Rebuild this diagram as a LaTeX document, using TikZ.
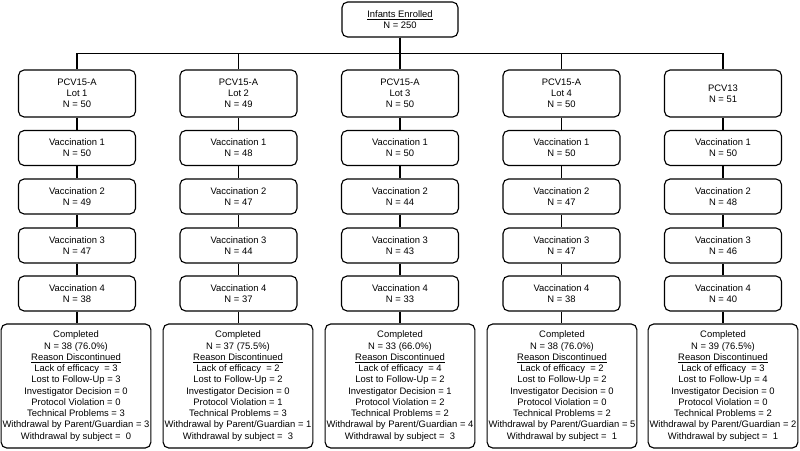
\documentclass[tikz,border=0pt]{standalone}
\usepackage{fontspec}
\setmainfont{Liberation Sans}
\usetikzlibrary{positioning}

\newcommand{\reasontext}[9]{Completed\\N = #1 (#2)\\\underline{Reason Discontinued}\\
  Lack of efficacy~ = #3\\Lost to Follow-Up = #4\\Investigator Decision = #5\\
  Protocol Violation = #6\\Technical Problems = #7\\
  Withdrawal by Parent/Guardian = #8\\Withdrawal by subject = ~#9}

\tikzset{
  box/.style={draw,rounded corners=4pt,align=center,inner sep=1pt,
    font=\fontsize{6.7}{8}\selectfont},
  armbox/.style={box,minimum width=2.925cm,minimum height=1.175cm},
  vacbox/.style={box,minimum width=2.925cm,minimum height=0.875cm},
  donebox/.style={box,minimum width=3.725cm,minimum height=3.1cm},
}

\begin{document}
\begin{tikzpicture}[x=0.025cm,y=-0.025cm,line width=0.8pt]
  \useasboundingbox (0,0) rectangle (800,451);

  \node[box,minimum width=2.9cm,minimum height=0.875cm] (enrol) at (400,19.5)
    {\underline{Infants Enrolled}\\N = 250};

  % one column per arm
  \foreach \i/\x/\arm/\n in {1/77/PCV15-A\\Lot 1/50,2/238.5/PCV15-A\\Lot 2/49,
      3/400/PCV15-A\\Lot 3/50,4/561.5/PCV15-A\\Lot 4/50,5/723/PCV13/51}{
    \node[armbox] (lot\i) at (\x,93.5) {\arm\\N = \n};
    \draw (enrol.south) -- ++(0,16) -| (lot\i.north);
  }

  \foreach \i/\x/\va/\vb/\vc/\vd in {1/77/50/49/47/38,2/238.5/48/47/44/37,
      3/400/50/44/43/33,4/561.5/50/47/47/38,5/723/50/48/46/40}{
    \foreach \k/\y/\v in {1/148/\va,2/196.5/\vb,3/245.5/\vc,4/293.5/\vd}{
      \node[vacbox] (v\i-\k) at (\x,\y) {Vaccination \k\\N = \v};
    }
    \draw (lot\i.south) -- (v\i-1.north);
    \draw (v\i-1.south) -- (v\i-2.north);
    \draw (v\i-2.south) -- (v\i-3.north);
    \draw (v\i-3.south) -- (v\i-4.north);
  }

  \node[donebox] (done1) at (76,386) {\reasontext{38}{76.0\%}{3}{3}{0}{0}{3}{3}{0}};
  \node[donebox] (done2) at (238,386) {\reasontext{37}{75.5\%}{2}{2}{0}{1}{3}{1}{3}};
  \node[donebox] (done3) at (400,386) {\reasontext{33}{66.0\%}{4}{2}{1}{2}{2}{4}{3}};
  \node[donebox] (done4) at (562,386) {\reasontext{38}{76.0\%}{2}{2}{0}{0}{2}{5}{1}};
  \node[donebox] (done5) at (723,386) {\reasontext{39}{76.5\%}{3}{4}{0}{0}{2}{2}{1}};
  \foreach \i in {1,...,5}
    \draw (v\i-4.south) -- (v\i-4.south |- done\i.north);
\end{tikzpicture}
\end{document}
